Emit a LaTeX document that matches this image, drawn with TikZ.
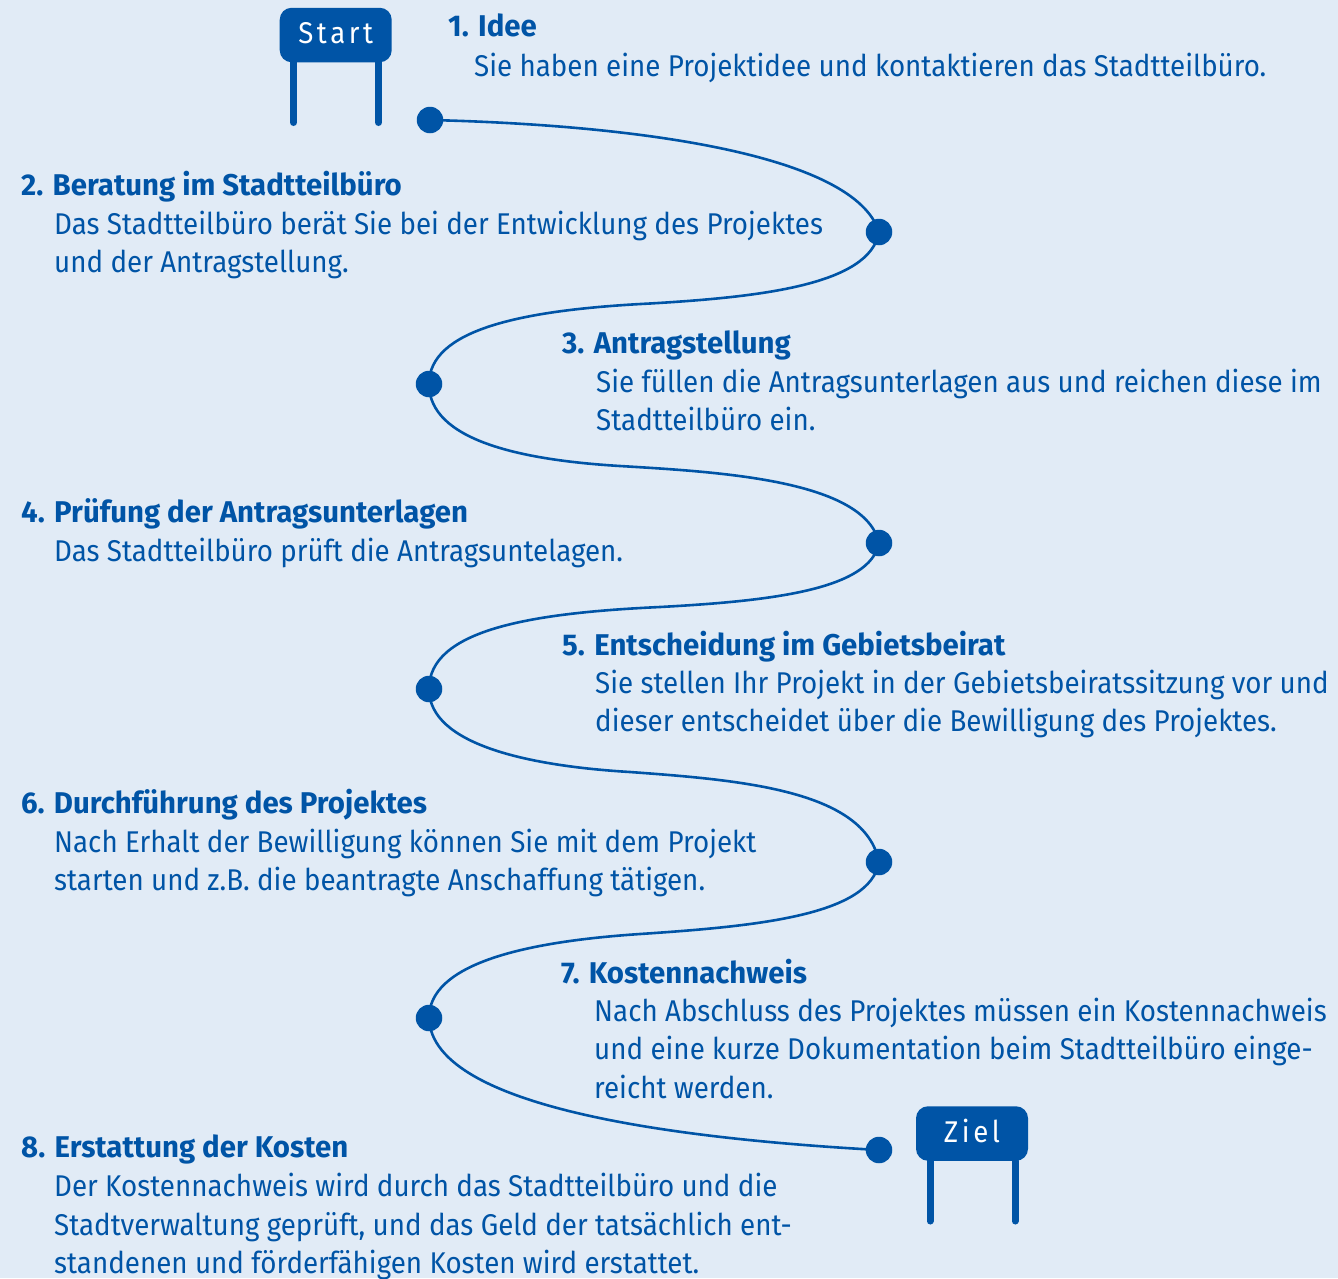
\documentclass[tikz,border=0pt]{standalone}
\usepackage{fontspec}
\setmainfont{Fira Sans}[FakeStretch=0.925]
\newfontfamily\headfont{Fira Sans}[FakeStretch=0.98]
\newfontfamily\signfont{Fira Sans}[LetterSpace=12.0,FakeStretch=0.92]
\newlength{\du}
\setlength{\du}{1pt}
\definecolor{dialinecolor}{rgb}{0.000000, 0.329412, 0.650980}
\definecolor{dialinepaper}{rgb}{0.882353, 0.921569, 0.964706}
\tikzset{
  headtext/.style={anchor=north west,inner sep=0pt,text=dialinecolor,font=\fontsize{30\du}{38.5\du}\headfont\bfseries},
  bodytext/.style={anchor=north west,inner sep=0pt,text=dialinecolor,align=left,font=\fontsize{30\du}{38.5\du}\selectfont},
  signbox/.style={fill=dialinecolor,draw=none,rounded corners=12\du,minimum width=112\du,minimum height=54.5\du,inner sep=0pt,text=white,text height=21\du,text depth=4\du,font=\fontsize{30\du}{30\du}\signfont},
  signleg/.style={draw=dialinecolor,line width=7\du,line cap=round},
  waydot/.style={circle,fill=dialinecolor,draw=none,minimum size=26.5\du,inner sep=0pt},
  wayline/.style={draw=dialinecolor,line width=2.6\du}
}
\begin{document}
\begin{tikzpicture}
\pgftransformxscale{1.000000}
\pgftransformyscale{-1.000000}
\fill[dialinepaper] (0\du,0\du) rectangle (1338\du,1278\du);
\useasboundingbox (0\du,0\du) rectangle (1338\du,1278\du);
% way
\coordinate (dot1) at (430.000000\du,120.000000\du);
\coordinate (dot2) at (879.000000\du,232.000000\du);
\coordinate (dot3) at (429.000000\du,384.000000\du);
\coordinate (dot4) at (879.000000\du,543.000000\du);
\coordinate (dot5) at (429.000000\du,689.000000\du);
\coordinate (dot6) at (879.000000\du,862.000000\du);
\coordinate (dot7) at (429.000000\du,1018.000000\du);
\coordinate (dot8) at (879.000000\du,1150.000000\du);
\coordinate (bend2) at (650.000000\du,303.500000\du);
\coordinate (bend3) at (620.000000\du,466.000000\du);
\coordinate (bend4) at (660.000000\du,607.000000\du);
\coordinate (bend5) at (630.000000\du,772.000000\du);
\coordinate (bend6) at (640.000000\du,934.000000\du);
\draw[wayline] (dot1) .. controls (640.000000\du,125.000000\du) and (855.000000\du,155.000000\du) .. (dot2);
\draw[wayline] (dot2) .. controls (870.000000\du,285.000000\du) and (760.000000\du,297.000000\du) .. (bend2) .. controls (520.000000\du,310.000000\du) and (429.000000\du,330.000000\du) .. (dot3);
\draw[wayline] (dot3) .. controls (429.000000\du,440.000000\du) and (520.000000\du,460.000000\du) .. (bend3) .. controls (720.000000\du,472.000000\du) and (865.000000\du,480.000000\du) .. (dot4);
\draw[wayline] (dot4) .. controls (870.000000\du,590.000000\du) and (770.000000\du,601.000000\du) .. (bend4) .. controls (530.000000\du,613.000000\du) and (429.000000\du,630.000000\du) .. (dot5);
\draw[wayline] (dot5) .. controls (429.000000\du,745.000000\du) and (530.000000\du,766.000000\du) .. (bend5) .. controls (740.000000\du,780.000000\du) and (865.000000\du,790.000000\du) .. (dot6);
\draw[wayline] (dot6) .. controls (870.000000\du,915.000000\du) and (760.000000\du,926.000000\du) .. (bend6) .. controls (520.000000\du,942.000000\du) and (429.000000\du,965.000000\du) .. (dot7);
\draw[wayline] (dot7) .. controls (432.000000\du,1112.000000\du) and (700.000000\du,1140.000000\du) .. (dot8);
\node[waydot] (way1) at (dot1){};
\node[waydot] (way2) at (dot2){};
\node[waydot] (way3) at (dot3){};
\node[waydot] (way4) at (dot4){};
\node[waydot] (way5) at (dot5){};
\node[waydot] (way6) at (dot6){};
\node[waydot] (way7) at (dot7){};
\node[waydot] (way8) at (dot8){};
% signs
\node[signbox] (start) at (335.700000\du,35.000000\du){Start};
\coordinate (startfootl) at (293.500000\du,122.500000\du);
\coordinate (startfootr) at (378.500000\du,122.500000\du);
\draw[signleg] (startfootl |- start.south) -- (startfootl);
\draw[signleg] (startfootr |- start.south) -- (startfootr);
\node[signbox] (ziel) at (972.000000\du,1133.500000\du){Ziel};
\coordinate (zielfootl) at (930.000000\du,1221.000000\du);
\coordinate (zielfootr) at (1015.000000\du,1221.000000\du);
\draw[signleg] (zielfootl |- ziel.south) -- (zielfootl);
\draw[signleg] (zielfootr |- ziel.south) -- (zielfootr);
% texts
\node[headtext] (head1) at (448.000000\du,14.000000\du){1. Idee};
\node[bodytext] (body1) at (474.000000\du,53.000000\du){Sie haben eine Projektidee und kontaktieren das Stadtteilbüro.};
\node[headtext] (head2) at (21.000000\du,171.000000\du){2. Beratung im Stadtteilbüro};
\node[bodytext] (body2) at (54.000000\du,210.500000\du){Das Stadtteilbüro berät Sie bei der Entwicklung des Projektes\\und der Antragstellung.};
\node[headtext] (head3) at (562.000000\du,331.000000\du){3. Antragstellung};
\node[bodytext] (body3) at (596.000000\du,368.500000\du){Sie füllen die Antragsunterlagen aus und reichen diese im\\Stadtteilbüro ein.};
\node[headtext] (head4) at (21.000000\du,498.000000\du){4. Prüfung der Antragsunterlagen};
\node[bodytext] (body4) at (54.000000\du,538.000000\du){Das Stadtteilbüro prüft die Antragsuntelagen.};
\node[headtext] (head5) at (562.000000\du,631.000000\du){5. Entscheidung im Gebietsbeirat};
\node[bodytext] (body5) at (595.000000\du,669.500000\du){Sie stellen Ihr Projekt in der Gebietsbeiratssitzung vor und\\dieser entscheidet über die Bewilligung des Projektes.};
\node[headtext] (head6) at (21.000000\du,789.000000\du){6. Durchführung des Projektes};
\node[bodytext] (body6) at (54.000000\du,828.500000\du){Nach Erhalt der Bewilligung können Sie mit dem Projekt\\starten und z.B. die beantragte Anschaffung tätigen.};
\node[headtext] (head7) at (561.000000\du,959.000000\du){7. Kostennachweis};
\node[bodytext] (body7) at (594.000000\du,997.500000\du){Nach Abschluss des Projektes müssen ein Kostennachweis\\und eine kurze Dokumentation beim Stadtteilbüro einge-\\reicht werden.};
\node[headtext] (head8) at (21.000000\du,1135.000000\du){8. Erstattung der Kosten};
\node[bodytext] (body8) at (54.000000\du,1173.000000\du){Der Kostennachweis wird durch das Stadtteilbüro und die\\Stadtverwaltung geprüft, und das Geld der tatsächlich ent-\\standenen und förderfähigen Kosten wird erstattet.};
\end{tikzpicture}
\end{document}
